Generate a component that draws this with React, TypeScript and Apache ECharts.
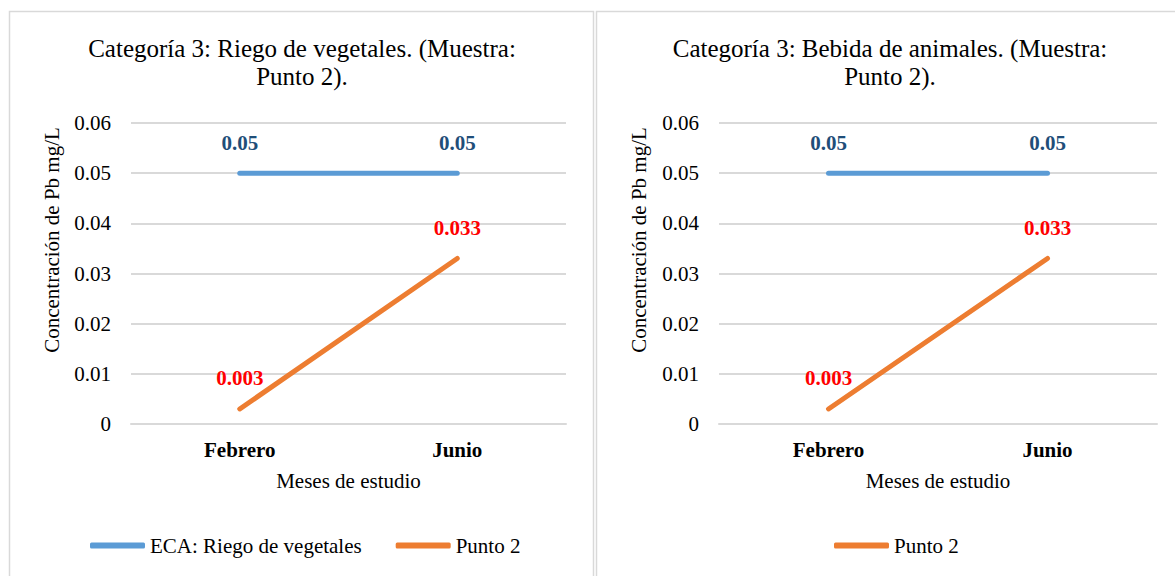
import React, { useEffect, useRef } from "react";
import * as echarts from "echarts";

const months = ["Febrero", "Junio"];
const ecaRiego = [0.05, 0.05];
const ecaBebida = [0.05, 0.05];
const punto2Riego = [0.003, 0.033];
const punto2Bebida = [0.003, 0.033];
const titles = [
  "Categoría 3: Riego de vegetales. (Muestra:\nPunto 2).",
  "Categoría 3: Bebida de animales. (Muestra:\nPunto 2).",
];
const yName = "Concentración de Pb mg/L";
const xName = "Meses de estudio";

const FONT = "Liberation Serif";
const BLUE = "#5b9bd5";
const ORANGE = "#ed7d31";
const BLUE_LABEL = "#1f4e79";
const RED = "#ff0000";
const GRID = "#d9d9d9";

function lineSeries(name: string, data: number[], color: string, labelColor: string, idx: number) {
  return {
    type: "line",
    name,
    data,
    xAxisIndex: idx,
    yAxisIndex: idx,
    symbol: "circle",
    symbolSize: 2,
    itemStyle: { color },
    lineStyle: { color, width: 5, cap: "round" },
    label: {
      show: true,
      position: "top",
      distance: 19,
      color: labelColor,
      fontWeight: "bold",
      fontSize: 21,
      fontFamily: FONT,
    },
  };
}

export default function App() {
  const ref = useRef<HTMLDivElement>(null);
  useEffect(() => {
    document.body.style.margin = "0";
    const chart = echarts.init(ref.current!, null, { renderer: "svg" });
    const yAxis = (idx: number) => ({
      type: "value",
      gridIndex: idx,
      min: 0,
      max: 0.06,
      interval: 0.01,
      axisLine: { show: false },
      axisTick: { show: false },
      axisLabel: { color: "#000", fontSize: 21, fontFamily: FONT, margin: 20 },
      splitLine: { lineStyle: { color: GRID, width: 2 } },
    });
    const xAxis = (idx: number) => ({
      type: "category",
      gridIndex: idx,
      data: months,
      axisLine: { show: true, lineStyle: { color: GRID, width: 2 } },
      axisTick: { show: false },
      axisLabel: { color: "#000", fontSize: 21, fontWeight: "bold", fontFamily: FONT, margin: 15 },
      name: xName,
      nameLocation: "middle",
      nameGap: 46,
      nameTextStyle: { color: "#000", fontSize: 21, fontFamily: FONT },
    });
    const legendText = { color: "#000", fontSize: 21, fontFamily: FONT, fontWeight: "normal" };
    const titleText = (text: string, x: number) => ({
      type: "text",
      x,
      y: 34,
      style: {
        text,
        fill: "#000",
        fontSize: 25,
        fontFamily: FONT,
        align: "center",
        verticalAlign: "top",
        lineHeight: 28,
      },
    });
    const yLabel = (x: number) => ({
      type: "text",
      x,
      y: 240,
      rotation: Math.PI / 2,
      style: {
        text: yName,
        fill: "#000",
        fontSize: 21,
        fontFamily: FONT,
        align: "center",
        verticalAlign: "middle",
      },
    });
    chart.setOption({
      animation: false,
      textStyle: { fontFamily: FONT },
      grid: [
        { left: 131, right: 609, top: 123, bottom: 152 },
        { left: 719, right: 18, top: 123, bottom: 152 },
      ],
      xAxis: [xAxis(0), xAxis(1)],
      yAxis: [yAxis(0), yAxis(1)],
      legend: [
        {
          data: ["ECA: Riego de vegetales", "Punto 2"],
          left: 90,
          top: 535,
          icon: "roundRect",
          itemWidth: 55,
          itemHeight: 6,
          itemGap: 34,
          padding: 0,
          textStyle: legendText,
        },
        {
          data: ["Punto 2"],
          left: 834,
          top: 535,
          icon: "roundRect",
          itemWidth: 55,
          itemHeight: 6,
          padding: 0,
          textStyle: legendText,
        },
      ],
      series: [
        lineSeries("ECA: Riego de vegetales", ecaRiego, BLUE, BLUE_LABEL, 0),
        lineSeries("Punto 2", punto2Riego, ORANGE, RED, 0),
        lineSeries("ECA: Bebida de animales", ecaBebida, BLUE, BLUE_LABEL, 1),
        lineSeries("Punto 2", punto2Bebida, ORANGE, RED, 1),
      ],
      graphic: [
        {
          type: "rect",
          shape: { x: 9.5, y: 11.5, width: 584, height: 580 },
          style: { fill: "none", stroke: GRID, lineWidth: 1.5 },
          silent: true,
        },
        {
          type: "rect",
          shape: { x: 596.5, y: 11.5, width: 600, height: 580 },
          style: { fill: "none", stroke: GRID, lineWidth: 1.5 },
          silent: true,
        },
        titleText(titles[0], 302),
        titleText(titles[1], 890),
        yLabel(52),
        yLabel(639),
      ],
    });
    return () => chart.dispose();
  }, []);
  return <div ref={ref} style={{ width: 1175, height: 576, background: "#fff" }} />;
}
